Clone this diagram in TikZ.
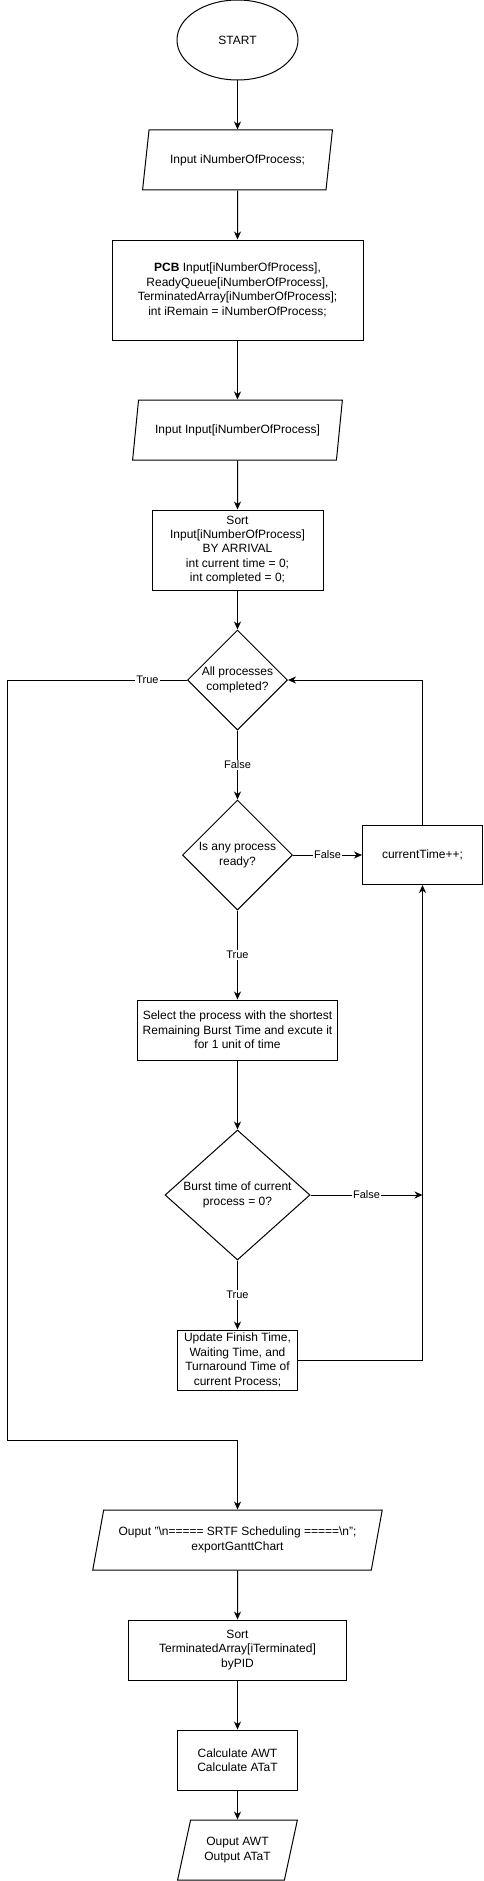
\documentclass[tikz,border=0pt]{standalone}
\usepackage{fontspec}
\setmainfont{Liberation Sans}
\usetikzlibrary{shapes.geometric,arrows.meta,calc}
\tikzset{
  txt/.style={font=\fontsize{12}{14.4}\selectfont, align=center, text=black},
  base/.style={txt, draw=black, line width=1pt, inner sep=2pt},
  procbox/.style={base, rectangle},
  startshape/.style={base, ellipse},
  decision/.style={draw=black, line width=1pt, diamond, inner sep=0pt},
  iobox/.style={base, trapezium, trapezium left angle=71.57, trapezium right angle=108.43, trapezium stretches=true},
  lbl/.style={fill=white, font=\fontsize{11}{13}\selectfont, text=black, inner sep=1pt},
  conn/.style={line width=1pt, -{Stealth[length=8pt,width=7pt,inset=2.5pt]}}
}
\begin{document}
\begin{tikzpicture}[x=1pt,y=-1pt]
\fill[white] (0,0) rectangle (483,1881);
\useasboundingbox (0,0) rectangle (483,1881);

\node[startshape, minimum width=121pt, minimum height=80pt] (start) at (237.5,40) {START};
\node[iobox, minimum width=190pt, minimum height=60pt] (in1) at (237.5,160) {Input iNumberOfProcess;};
\node[procbox, minimum width=251pt, minimum height=100pt] (pcb) at (237.5,290)
  {\textbf{PCB} Input[iNumberOfProcess],\\ReadyQueue[iNumberOfProcess],\\TerminatedArray[iNumberOfProcess];\\int iRemain = iNumberOfProcess;};
\node[iobox, minimum width=210pt, minimum height=60pt] (in2) at (237.5,430) {Input Input[iNumberOfProcess]};
\node[procbox, minimum width=171pt, minimum height=80pt] (sort) at (237.5,550)
  {Sort\\Input[iNumberOfProcess]\\BY ARRIVAL\\int current time = 0;\\int completed = 0;};
\node[decision, minimum width=100pt, minimum height=100pt,
  label={[txt]center:All processes\\completed?}] (d1) at (237.5,680) {};
\node[decision, minimum width=110pt, minimum height=110pt,
  label={[txt]center:Is any process\\ready?}] (d2) at (237.5,855) {};
\node[procbox, minimum width=120pt, minimum height=59pt] (ct) at (422.5,855) {currentTime++;};
\node[procbox, minimum width=200pt, minimum height=60pt] (sel) at (237.5,1030)
  {Select the process with the shortest\\Remaining Burst Time and excute it\\for 1 unit of time};
\node[decision, minimum width=145pt, minimum height=130pt,
  label={[txt]center:Burst time of current\\process = 0?}] (d3) at (237.5,1195) {};
\node[procbox, minimum width=120pt, minimum height=60pt] (upd) at (237.5,1360)
  {Update Finish Time,\\Waiting Time, and\\Turnaround Time of\\current Process;};
\node[iobox, minimum width=290pt, minimum height=60pt] (out1) at (237.5,1540)
  {Ouput "\textbackslash n===== SRTF Scheduling =====\textbackslash n";\\exportGanttChart};
\node[procbox, minimum width=218pt, minimum height=60pt] (sort2) at (237.5,1650)
  {Sort\\TerminatedArray[iTerminated]\\byPID};
\node[procbox, minimum width=120pt, minimum height=60pt] (calc) at (237.5,1760)
  {Calculate AWT\\Calculate ATaT};
\node[iobox, minimum width=120pt, minimum height=60pt] (out2) at (237.5,1850)
  {Ouput AWT\\Output ATaT};

\draw[conn] (start) -- (in1);
\draw[conn] (in1) -- (pcb);
\draw[conn] (pcb) -- (in2);
\draw[conn] (in2) -- (sort);
\draw[conn] (sort) -- (d1);
\draw[conn] (d1) -- node[lbl]{False} (d2);
\draw[conn] (d2.east) -- node[lbl]{False} (ct.west);
\draw[conn] (d2) -- node[lbl]{True} (sel);
\draw[conn] (sel) -- (d3);
\coordinate (j) at (ct.south |- d3.east);
\draw[conn] (d3.east) -- node[lbl]{False} (j);
\draw[conn] (d3) -- node[lbl]{True} (upd);
\draw[conn] (upd.east) -| (ct.south);
\draw[conn] (ct.north) |- (d1.east);
\coordinate (lx) at (7,1440);
\draw[conn] (d1.west) -- node[lbl,pos=0.22]{True} (d1.west -| lx) -- (lx) -- (lx -| out1.north) -- (out1.north);
\draw[conn] (out1) -- (sort2);
\draw[conn] (sort2) -- (calc);
\draw[conn] (calc) -- (out2);
\end{tikzpicture}
\end{document}
